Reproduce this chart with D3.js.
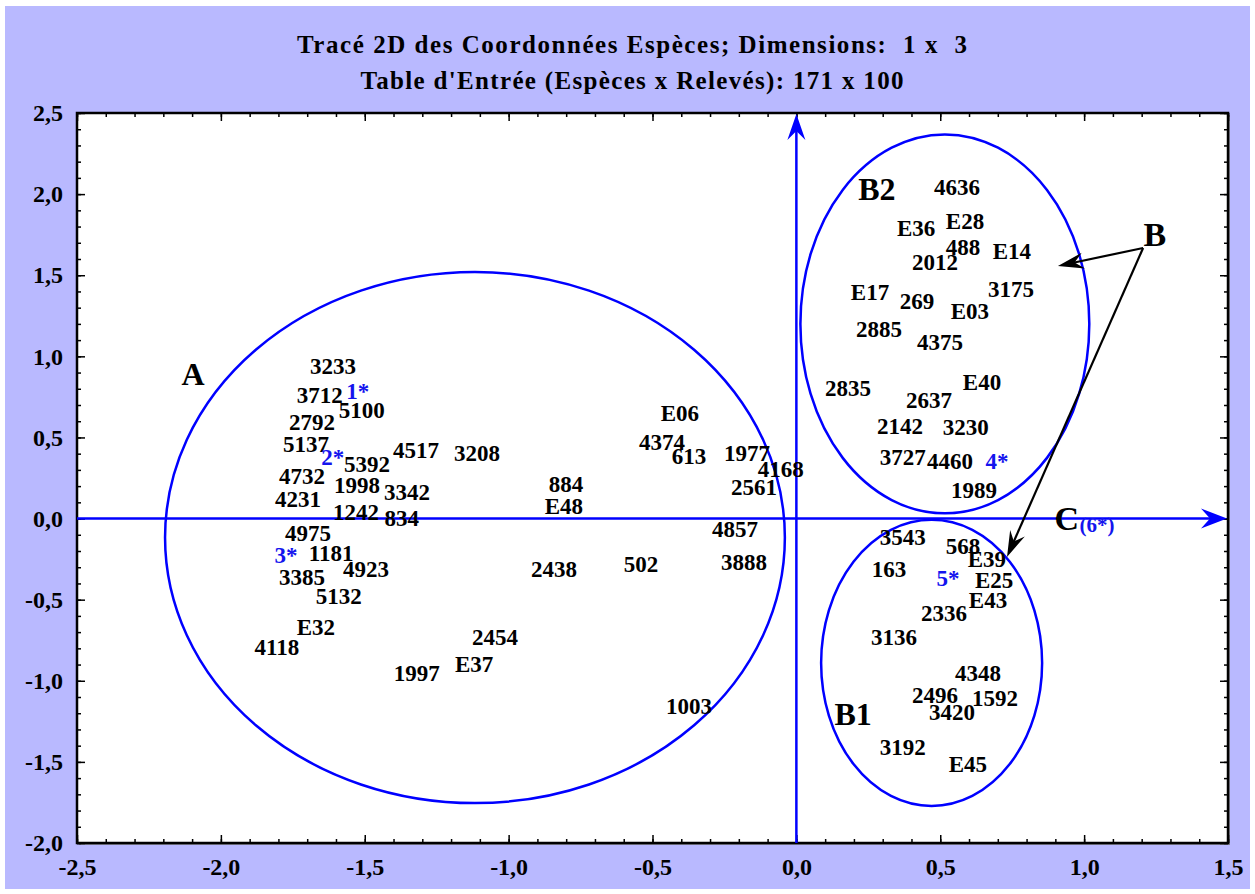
<!DOCTYPE html>
<html>
<head>
<meta charset="utf-8">
<script src="https://cdn.jsdelivr.net/npm/d3@7"></script>
<style>
  html, body { margin: 0; padding: 0; background: #ffffff; }
  svg { display: block; }
  .lbl { font-family: "Liberation Serif", "Times New Roman", serif; font-weight: bold; }
  .title { white-space: pre; }
</style>
</head>
<body>
<svg id="chart" width="1255" height="894"></svg>
<script>
// Species coordinates on dimensions 1 (x) and 3 (y)
const speciesNames = [
  "3233","3712","5100","2792","5137","5392","4517","3208","4732","1998",
  "3342","4231","1242","834","4975","1181","4923","3385","5132","E32",
  "4118","2454","E37","1997","2438","502","884","E48","E06","4374",
  "613","1977","4168","2561","4857","3888","1003",
  "4636","E36","E28","488","E14","2012","E17","269","3175","E03",
  "2885","4375","2835","E40","2637","2142","3230","3727","4460","1989",
  "3543","568","E39","163","E25","E43","2336","3136","4348","2496",
  "1592","3420","3192","E45"
];
const speciesDim1 = [
  -1.610,-1.656,-1.510,-1.683,-1.704,-1.492,-1.322,-1.110,-1.718,-1.527,
  -1.353,-1.732,-1.530,-1.371,-1.697,-1.617,-1.496,-1.718,-1.590,-1.670,
  -1.805,-1.047,-1.120,-1.319,-0.842,-0.540,-0.801,-0.808,-0.405,-0.467,
  -0.373,-0.172,-0.054,-0.147,-0.213,-0.182,-0.373,
  0.558,0.416,0.586,0.579,0.749,0.482,0.256,0.419,0.746,0.603,
  0.287,0.499,0.179,0.645,0.461,0.360,0.589,0.370,0.534,0.617,
  0.370,0.579,0.662,0.322,0.687,0.666,0.513,0.339,0.631,0.482,
  0.690,0.541,0.370,0.596
];
const speciesDim3 = [
  0.941,0.762,0.670,0.596,0.460,0.337,0.423,0.404,0.263,0.207,
  0.164,0.121,0.041,0.004,-0.089,-0.212,-0.311,-0.360,-0.477,-0.668,
  -0.792,-0.730,-0.896,-0.952,-0.311,-0.280,0.213,0.078,0.651,0.472,
  0.386,0.404,0.306,0.195,-0.064,-0.268,-1.155,
  2.044,1.792,1.835,1.674,1.650,1.582,1.397,1.342,1.416,1.280,
  1.169,1.089,0.805,0.842,0.731,0.571,0.565,0.380,0.355,0.176,
  -0.113,-0.169,-0.249,-0.311,-0.379,-0.502,-0.582,-0.730,-0.952,-1.088,
  -1.106,-1.192,-1.408,-1.513
];

// Numbered reference points (blue)
const refNames = ["1*","2*","3*","4*","5*"];
const refDim1 = [-1.524,-1.611,-1.774,0.697,0.527];
const refDim3 = [0.787,0.380,-0.224,0.355,-0.366];

// Group envelopes: centre and half-axes in data units
const groupNames = ["A","B2","B1"];
const groupCx = [-1.117,0.516,0.470];
const groupCy = [-0.117,1.200,-0.890];
const groupRx = [1.077,0.502,0.384];
const groupRy = [1.637,1.168,0.882];
const groupLabelX = [-2.097,0.280,0.197];
const groupLabelY = [0.891,2.032,-1.205];

// Annotation "B" with its two arrows
const bLabel = {text: "B", x: 1.246, y: 1.755};
const bArrowFrom = [1.205, 1.668];
const bArrowTo = [[0.909, 1.557], [0.732, -0.237]];
const cLabel = {text: "C", sub: "(6*)", x: 0.940, y: 0.0, subX: 1.045, subY: -0.040};

// Axis ticks
const xMajor = [-2.5,-2.0,-1.5,-1.0,-0.5,0.0,0.5,1.0,1.5];
const yMajor = [-2.0,-1.5,-1.0,-0.5,0.0,0.5,1.0,1.5,2.0,2.5];
const xMinor = d3.range(-25, 16).map(v => v / 10);
const yMinor = d3.range(-20, 26).map(v => v / 10);

const titleLines = [
  "Tracé 2D des Coordonnées Espèces; Dimensions:  1 x  3",
  "Table d'Entrée (Espèces x Relevés): 171 x 100"
];
const titleWidths = [670, 543];

const W = 1255, H = 894;
const plot = {left: 77, right: 1228, top: 113, bottom: 843};
const blue = "#0000ff";
const labelBlue = "#1414ee";

const svg = d3.select("#chart");

// page and panel backgrounds
svg.append("rect").attr("width", W).attr("height", H).attr("fill", "#ffffff");
svg.append("rect").attr("x", 5).attr("y", 6).attr("width", 1245).attr("height", 883).attr("fill", "#b9b9ff");

const x = d3.scaleLinear().domain([-2.5, 1.5]).range([plot.left, plot.right]);
const y = d3.scaleLinear().domain([-2.0, 2.5]).range([plot.bottom, plot.top]);

// plot area with a soft shadow
svg.append("rect")
  .attr("x", plot.left + 2).attr("y", plot.top + 2)
  .attr("width", plot.right - plot.left).attr("height", plot.bottom - plot.top)
  .attr("fill", "#8a8a9a");
svg.append("rect")
  .attr("x", plot.left).attr("y", plot.top)
  .attr("width", plot.right - plot.left).attr("height", plot.bottom - plot.top)
  .attr("fill", "#ffffff");

// titles
svg.selectAll("text.title").data(titleLines).join("text")
  .attr("class", "lbl title")
  .attr("x", 632).attr("y", (d, i) => 53 + i * 36)
  .attr("text-anchor", "middle")
  .attr("font-size", 25)
  .attr("textLength", (d, i) => titleWidths[i])
  .attr("lengthAdjust", "spacing")
  .attr("fill", "#000")
  .text(d => d);

const fmt = v => v.toFixed(1).replace(".", ",").replace("-0,0", "0,0");

function styleAxis(g, showLabels) {
  g.select(".domain").remove();
  g.selectAll(".tick line").attr("stroke", "#000").attr("stroke-width", 1.5);
  g.selectAll(".tick text")
    .attr("class", "lbl")
    .attr("font-size", 24)
    .attr("fill", "#000")
    .style("display", showLabels ? null : "none");
}

// minor ticks (inward) on all four sides
svg.append("g").attr("transform", `translate(0,${plot.bottom})`)
  .call(d3.axisBottom(x).tickValues(xMinor).tickSize(-4).tickFormat(""))
  .call(g => styleAxis(g, false));
svg.append("g").attr("transform", `translate(0,${plot.top})`)
  .call(d3.axisTop(x).tickValues(xMinor).tickSize(-4).tickFormat(""))
  .call(g => styleAxis(g, false));
svg.append("g").attr("transform", `translate(${plot.left},0)`)
  .call(d3.axisLeft(y).tickValues(yMinor).tickSize(-4).tickFormat(""))
  .call(g => styleAxis(g, false));
svg.append("g").attr("transform", `translate(${plot.right},0)`)
  .call(d3.axisRight(y).tickValues(yMinor).tickSize(-4).tickFormat(""))
  .call(g => styleAxis(g, false));

// major ticks with labels
svg.append("g").attr("transform", `translate(0,${plot.bottom})`)
  .call(d3.axisBottom(x).tickValues(xMajor).tickSize(-8).tickPadding(15).tickFormat(fmt))
  .call(g => styleAxis(g, true));
svg.append("g").attr("transform", `translate(0,${plot.top})`)
  .call(d3.axisTop(x).tickValues(xMajor).tickSize(-8).tickFormat(""))
  .call(g => styleAxis(g, false));
svg.append("g").attr("transform", `translate(${plot.left},0)`)
  .call(d3.axisLeft(y).tickValues(yMajor).tickSize(-8).tickPadding(14).tickFormat(fmt))
  .call(g => styleAxis(g, true));
svg.append("g").attr("transform", `translate(${plot.right},0)`)
  .call(d3.axisRight(y).tickValues(yMajor).tickSize(-8).tickFormat(""))
  .call(g => styleAxis(g, false));

// plot frame
svg.append("rect")
  .attr("x", plot.left).attr("y", plot.top)
  .attr("width", plot.right - plot.left).attr("height", plot.bottom - plot.top)
  .attr("fill", "none").attr("stroke", "#000").attr("stroke-width", 2.5);

// barbed arrowhead polygon, tip at (tx,ty) pointing along direction from (fx,fy)
function arrowHead(fx, fy, tx, ty, len, half, notch) {
  const a = Math.atan2(ty - fy, tx - fx);
  const ux = Math.cos(a), uy = Math.sin(a);
  const px = -uy, py = ux;
  const bx = tx - ux * len, by = ty - uy * len;
  const nx = tx - ux * notch, ny = ty - uy * notch;
  return `M${tx},${ty}L${bx + px * half},${by + py * half}L${nx},${ny}L${bx - px * half},${by - py * half}Z`;
}

// principal axes through the origin
svg.append("line")
  .attr("x1", x(-2.5)).attr("x2", x(1.5) - 10)
  .attr("y1", y(0)).attr("y2", y(0))
  .attr("stroke", blue).attr("stroke-width", 2.5);
svg.append("path")
  .attr("d", arrowHead(x(0), y(0), x(1.5) - 1, y(0), 26, 10, 17))
  .attr("fill", blue);
svg.append("line")
  .attr("x1", x(0)).attr("x2", x(0))
  .attr("y1", y(-2.0)).attr("y2", y(2.5) + 10)
  .attr("stroke", blue).attr("stroke-width", 2.5);
svg.append("path")
  .attr("d", arrowHead(x(0), y(0), x(0), y(2.5) + 1, 26, 9, 17))
  .attr("fill", blue);

// group envelopes
svg.selectAll("ellipse.group").data(groupNames).join("ellipse")
  .attr("class", "group")
  .attr("cx", (d, i) => x(groupCx[i]))
  .attr("cy", (d, i) => y(groupCy[i]))
  .attr("rx", (d, i) => x(groupRx[i]) - x(0))
  .attr("ry", (d, i) => y(0) - y(groupRy[i]))
  .attr("fill", "none").attr("stroke", blue).attr("stroke-width", 2.5);

// species labels
svg.selectAll("text.sp").data(speciesNames).join("text")
  .attr("class", "lbl sp")
  .attr("x", (d, i) => x(speciesDim1[i]))
  .attr("y", (d, i) => y(speciesDim3[i]))
  .attr("dy", "0.35em")
  .attr("text-anchor", "middle")
  .attr("font-size", 23)
  .attr("fill", "#000")
  .text(d => d);

// reference point labels
svg.selectAll("text.ref").data(refNames).join("text")
  .attr("class", "lbl ref")
  .attr("x", (d, i) => x(refDim1[i]))
  .attr("y", (d, i) => y(refDim3[i]))
  .attr("dy", "0.35em")
  .attr("text-anchor", "middle")
  .attr("font-size", 23)
  .attr("fill", labelBlue)
  .text(d => d);

// group letters
svg.selectAll("text.grp").data(groupNames).join("text")
  .attr("class", "lbl grp")
  .attr("x", (d, i) => x(groupLabelX[i]))
  .attr("y", (d, i) => y(groupLabelY[i]))
  .attr("dy", "0.35em")
  .attr("text-anchor", "middle")
  .attr("font-size", 32)
  .attr("fill", "#000")
  .text(d => d);

// "B" annotation with arrows
bArrowTo.forEach(t => {
  const fx = x(bArrowFrom[0]), fy = y(bArrowFrom[1]);
  const tx = x(t[0]), ty = y(t[1]);
  const a = Math.atan2(ty - fy, tx - fx);
  svg.append("line")
    .attr("x1", fx).attr("y1", fy)
    .attr("x2", tx - Math.cos(a) * 12).attr("y2", ty - Math.sin(a) * 12)
    .attr("stroke", "#000").attr("stroke-width", 2.2);
  svg.append("path").attr("d", arrowHead(fx, fy, tx, ty, 26, 8, 17)).attr("fill", "#000");
});
svg.append("text").attr("class", "lbl")
  .attr("x", x(bLabel.x)).attr("y", y(bLabel.y)).attr("dy", "0.35em")
  .attr("text-anchor", "middle").attr("font-size", 34).attr("fill", "#000")
  .text(bLabel.text);

// "C" annotation on the horizontal axis
svg.append("text").attr("class", "lbl")
  .attr("x", x(cLabel.x)).attr("y", y(cLabel.y)).attr("dy", "0.35em")
  .attr("text-anchor", "middle").attr("font-size", 34).attr("fill", "#000")
  .text(cLabel.text);
svg.append("text").attr("class", "lbl")
  .attr("x", x(cLabel.subX)).attr("y", y(cLabel.subY)).attr("dy", "0.35em")
  .attr("text-anchor", "middle").attr("font-size", 21).attr("fill", labelBlue)
  .text(cLabel.sub);
</script>
</body>
</html>
